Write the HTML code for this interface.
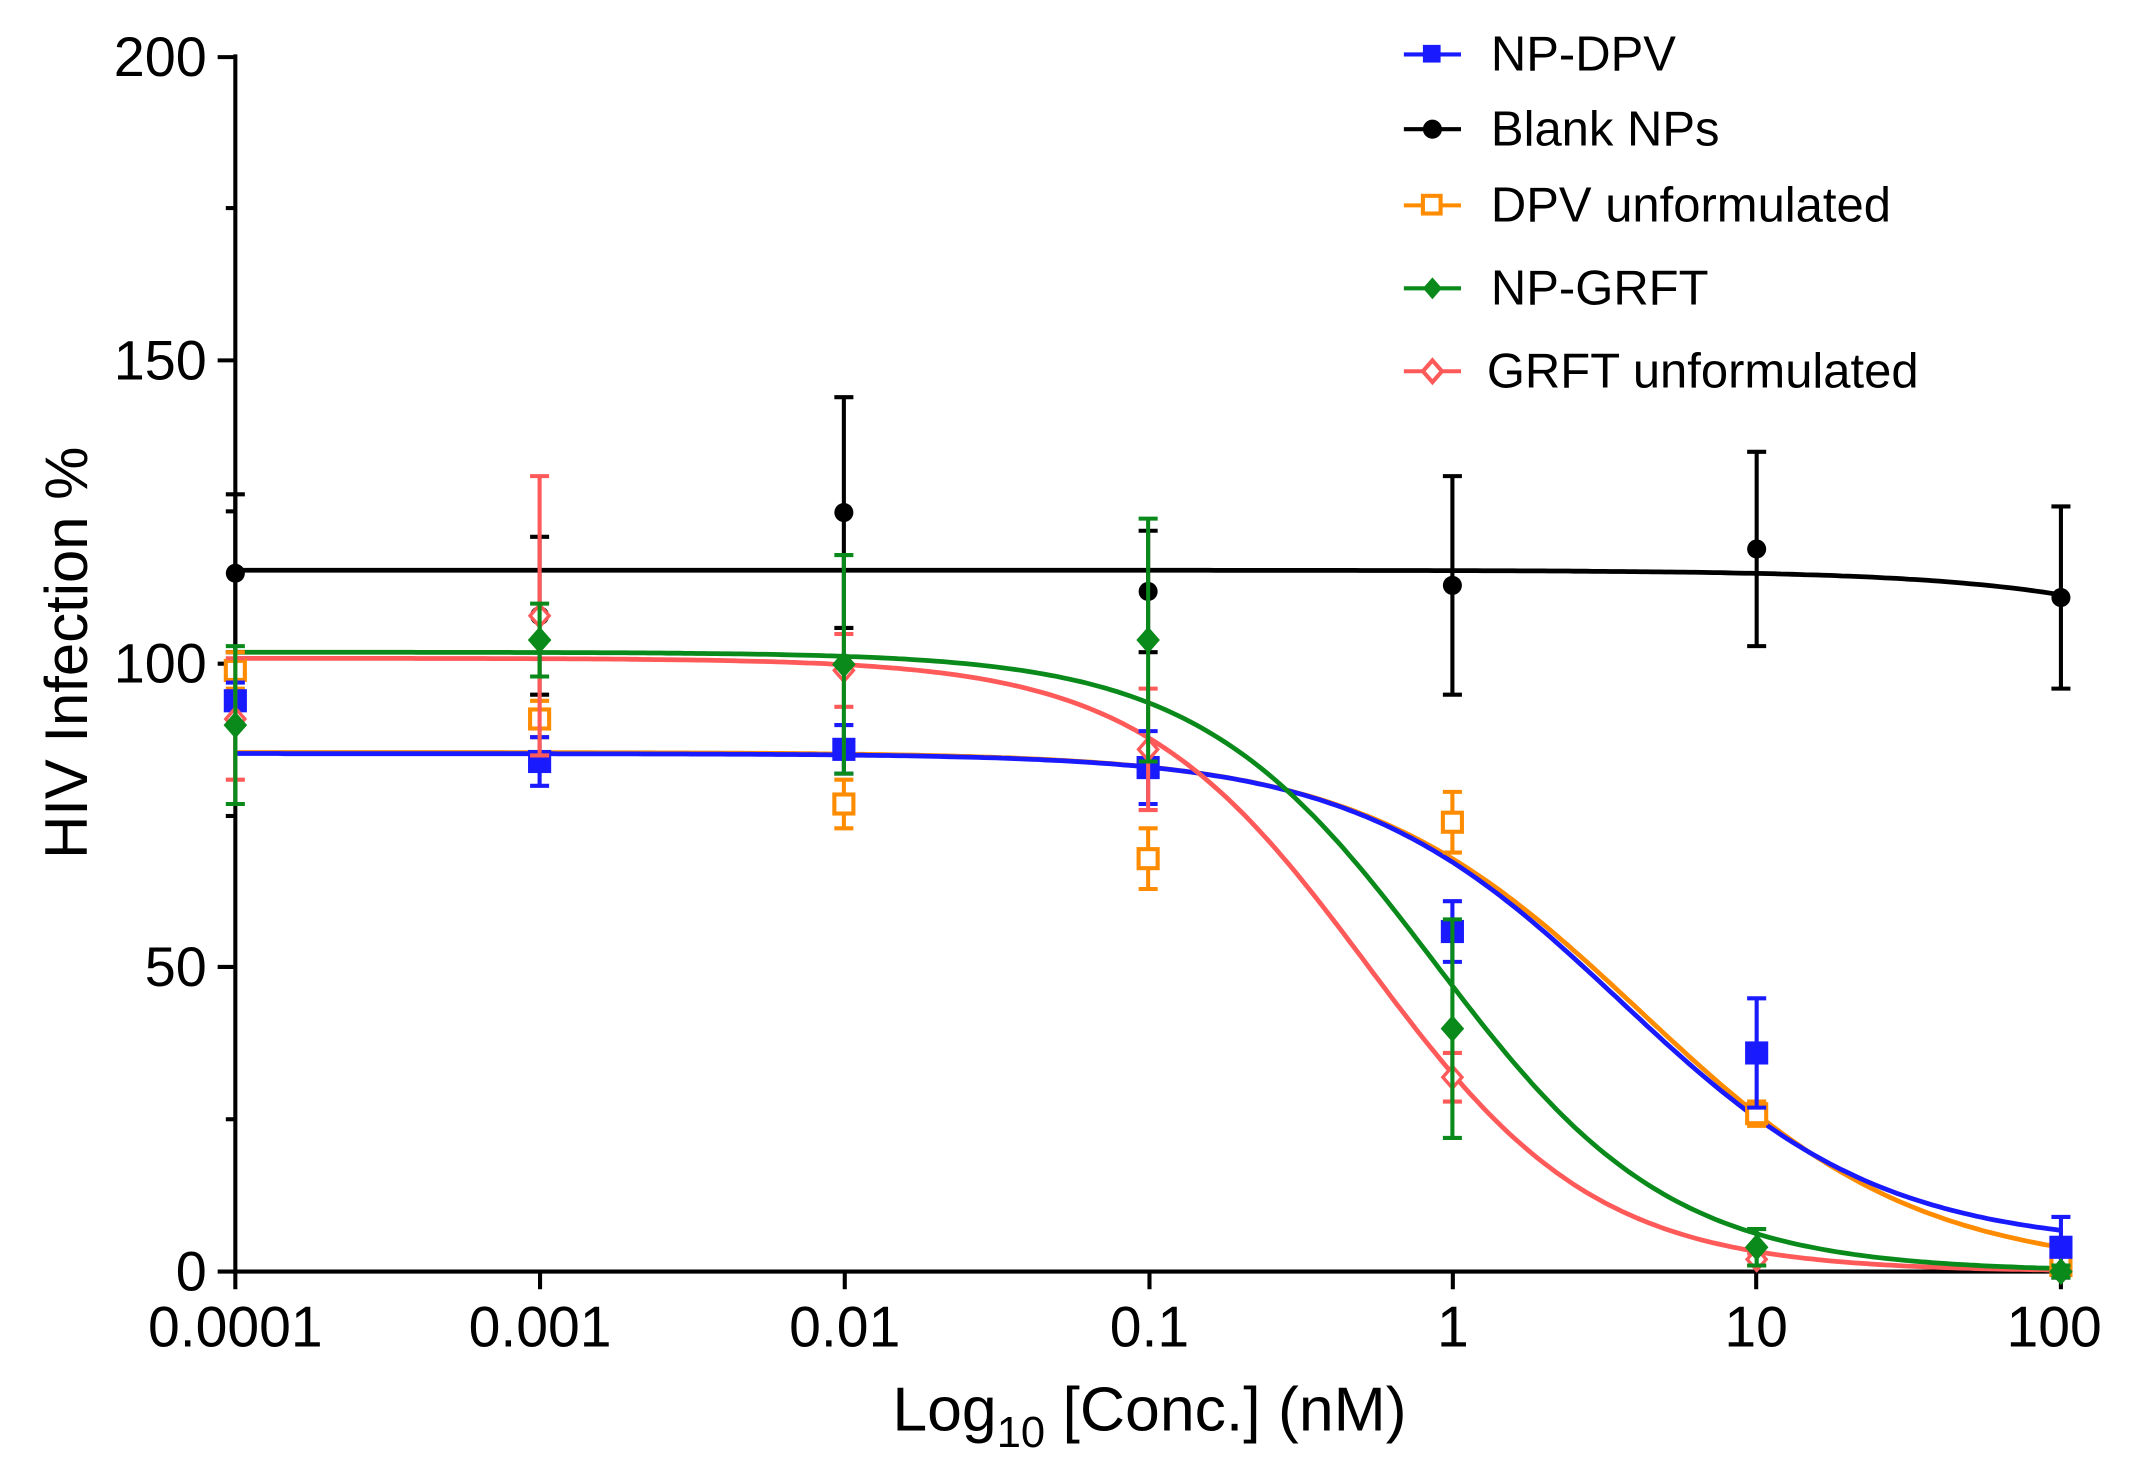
<!DOCTYPE html>
<html><head><meta charset="utf-8"><style>html,body{margin:0;padding:0;background:#fff}svg{display:block}</style></head>
<body>
<svg id="s" width="2133" height="1481" viewBox="0 0 1568 1089" preserveAspectRatio="none" font-family="Liberation Sans, sans-serif">
<g stroke="#000" stroke-width="3" fill="none">
<line x1="173" y1="40" x2="173" y2="936"/>
<line x1="171" y1="935" x2="1517" y2="935"/>
<line x1="160" y1="42" x2="173" y2="42"/><line x1="160" y1="265" x2="173" y2="265"/><line x1="160" y1="488" x2="173" y2="488"/><line x1="160" y1="711" x2="173" y2="711"/><line x1="160" y1="935" x2="173" y2="935"/>
<line x1="166" y1="153" x2="173" y2="153"/><line x1="166" y1="376" x2="173" y2="376"/><line x1="166" y1="600" x2="173" y2="600"/><line x1="166" y1="823" x2="173" y2="823"/>
<line x1="173" y1="935" x2="173" y2="948"/><line x1="397" y1="935" x2="397" y2="948"/><line x1="621" y1="935" x2="621" y2="948"/><line x1="845" y1="935" x2="845" y2="948"/><line x1="1068" y1="935" x2="1068" y2="948"/><line x1="1291" y1="935" x2="1291" y2="948"/><line x1="1515" y1="935" x2="1515" y2="948"/>
</g>
<g font-size="41" text-anchor="end" fill="#000">
<text x="152" y="56">200</text><text x="152" y="279">150</text><text x="152" y="502">100</text><text x="152" y="725">50</text><text x="152" y="949">0</text>
</g>
<g font-size="42" text-anchor="middle" fill="#000">
<text x="173" y="990">0.0001</text><text x="397" y="990">0.001</text><text x="621" y="990">0.01</text><text x="845" y="990">0.1</text><text x="1068" y="990">1</text><text x="1291" y="990">10</text><text x="1510" y="990">100</text>
<text x="845" y="1052" font-size="46">Log<tspan font-size="32" dy="12">10</tspan><tspan dy="-12"> [Conc.] (nM)</tspan></text>
<text transform="translate(64,480) rotate(-90)" font-size="44">HIV Infection %</text>
</g>
<g id="plot"></g>
<g font-size="36" fill="#000">
<text x="1096" y="52">NP-DPV</text><text x="1096" y="107">Blank NPs</text><text x="1096" y="163">DPV unformulated</text><text x="1096" y="224">NP-GRFT</text><text x="1093" y="285">GRFT unformulated</text>
</g>
<g stroke-width="3">
<line x1="1032" y1="40" x2="1074" y2="40" stroke="#1a1aff"/><rect x="1046" y="33" width="13" height="13" fill="#1a1aff"/>
<line x1="1032" y1="95" x2="1074" y2="95" stroke="#000"/><circle cx="1053" cy="95" r="7" fill="#000"/>
<line x1="1032" y1="151" x2="1074" y2="151" stroke="#ff8c00"/><rect x="1046" y="144" width="13" height="13" fill="#fff" stroke="#ff8c00"/>
<line x1="1032" y1="212" x2="1074" y2="212" stroke="#0a8a1a"/><path d="M1053 204 l7 8 -7 8 -7 -8z" fill="#0a8a1a"/>
<line x1="1032" y1="273" x2="1074" y2="273" stroke="#ff5a5a"/><path d="M1053 265 l7 8 -7 8 -7 -8z" fill="#fff" stroke="#ff5a5a"/>
</g>
<script>
var X=l=>173+(l+4)*223.67, Y=v=>935-v*4.465;
var g=document.getElementById('plot'),ns='http://www.w3.org/2000/svg';
function el(t,a){var e=document.createElementNS(ns,t);for(var k in a)e.setAttribute(k,a[k]);g.appendChild(e);return e;}
function curve(top,bot,lic,h,c){var d='';for(var l=-4;l<=2.001;l+=0.02){var v=bot+(top-bot)/(1+Math.pow(10,(l-lic)*h));d+=(d?'L':'M')+X(l).toFixed(1)+' '+Y(v).toFixed(1);}el('path',{d:d,fill:'none',stroke:c,'stroke-width':3.5});}
var S=[
{c:'#000',m:'c',f:1,crv:[115.5,0,3.6,0.9],p:[[115,13],[108,13],[125,19],[112,10],[113,18],[119,16],[111,15]]},
{c:'#ff8c00',m:'s',f:0,crv:[85.5,0,0.62,0.95],p:[[99,3],[91,3],[77,4],[68,5],[74,5],[26,2],[1,1]]},
{c:'#1a1aff',m:'s',f:1,crv:[85.3,4,0.55,1.0],p:[[94,3],[84,4],[86,4],[83,6],[56,5],[36,9],[4,5]]},
{c:'#ff5a5a',m:'d',f:0,crv:[101,0,-0.28,1.15],p:[[91,10],[108,23],[99,6],[86,10],[32,4],[2,1],[0,1]]},
{c:'#0a8a1a',m:'d',f:1,crv:[102,0,-0.06,1.12],p:[[90,13],[104,6],[100,18],[104,20],[40,18],[4,3],[0,1]]}];
S.forEach(s=>curve(s.crv[0],s.crv[1],s.crv[2],s.crv[3],s.c));
S.forEach(s=>s.p.forEach((p,i)=>{var x=X(i-4),y=Y(p[0]),e=p[1]*4.465;
el('path',{d:'M'+x+' '+(y-e)+'V'+(y+e)+'M'+(x-7)+' '+(y-e)+'h14M'+(x-7)+' '+(y+e)+'h14',stroke:s.c,'stroke-width':3,fill:'none'});
var fill=s.f?s.c:'#fff';
if(s.m=='c')el('circle',{cx:x,cy:y,r:7,fill:fill});
else if(s.m=='s')el('rect',{x:x-7,y:y-7,width:14,height:14,fill:fill,stroke:s.c,'stroke-width':3});
else el('path',{d:'M'+x+' '+(y-8)+'l7 8 -7 8 -7 -8z',fill:fill,stroke:s.c,'stroke-width':2.5});}));
</script>
</svg>
</body></html>
